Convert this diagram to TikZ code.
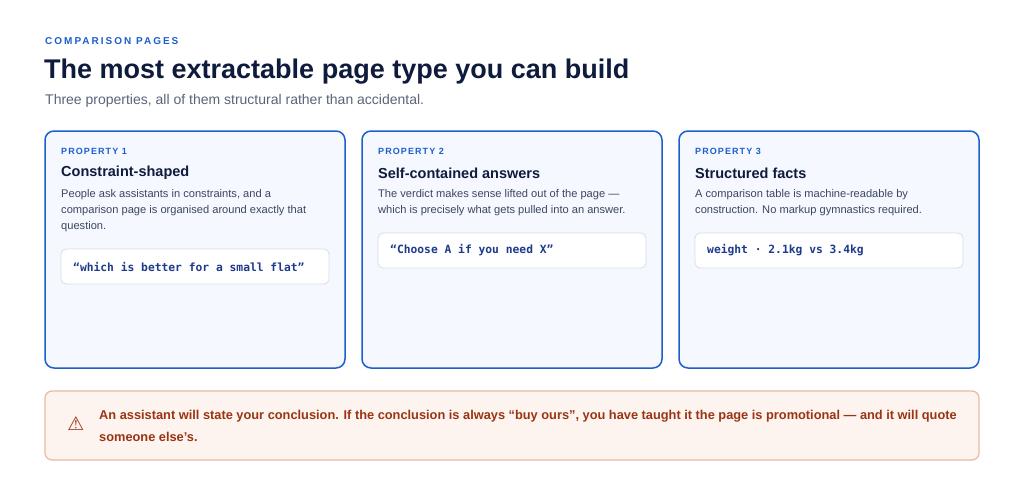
\documentclass[tikz,border=0pt]{standalone}
\usepackage{fontspec}
\setmainfont{Liberation Sans}
\newfontfamily\capsfont[LetterSpace=12]{Liberation Sans}
\newfontfamily\kickfont[LetterSpace=20]{Liberation Sans}
\newfontfamily\codefont{DejaVu Sans Mono}
\newfontfamily\symfont{DejaVu Sans}
\definecolor{blue1}{HTML}{1D5FCC}
\definecolor{cardbg}{HTML}{F5F8FE}
\definecolor{navy}{HTML}{0F1B3D}
\definecolor{grey1}{HTML}{5A6478}
\definecolor{body}{HTML}{3C4660}
\definecolor{codeb}{HTML}{D5DEEA}
\definecolor{codet}{HTML}{1E3A8A}
\definecolor{warnbg}{HTML}{FDF3EF}
\definecolor{warnbd}{HTML}{EDB79F}
\definecolor{warnt}{HTML}{9A3412}
\begin{document}
\begin{tikzpicture}[x=1pt,y=-1pt,
  card/.style={draw=blue1,line width=1.5pt,fill=cardbg,rounded corners=9pt},
  code/.style={draw=codeb,line width=0.8pt,fill=white,rounded corners=5pt},
  lab/.style={anchor=west,inner sep=0,text=blue1,font=\capsfont\bfseries\fontsize{9}{10}\selectfont},
  ttl/.style={anchor=west,inner sep=0,text=navy,font=\bfseries\fontsize{14.5}{16}\selectfont},
  txt/.style={anchor=north west,inner sep=0,text=body,align=left,font=\fontsize{11.1}{16}\selectfont},
  ct/.style={anchor=west,inner sep=0,text=codet,font=\codefont\bfseries\fontsize{11.3}{12}\selectfont}]
\useasboundingbox (0,0) rectangle (1024,495);
\fill[white] (0,0) rectangle (1024,495);
\node[anchor=west,inner sep=0,text=blue1,font=\kickfont\bfseries\fontsize{10}{11}\selectfont] (kick) at (45,41) {COMPARISON PAGES};
\node[anchor=west,inner sep=0,text=navy,font=\bfseries\fontsize{27}{30}\selectfont] (title) at (44,72) {The most extractable page type you can build};
\node[anchor=west,inner sep=0,text=grey1,font=\fontsize{14}{16}\selectfont] (sub) at (45,101) {Three properties, all of them structural rather than accidental.};
% cards
\draw[card] (45,131) rectangle (345,368);
\draw[card] (362,131) rectangle (662,368);
\draw[card] (679,131) rectangle (979,368);
\node[lab] (l1) at (61,151) {PROPERTY 1};
\node[lab] (l2) at (378,151) {PROPERTY 2};
\node[lab] (l3) at (695,151) {PROPERTY 3};
\node[ttl] (t1) at (61,173) {Constraint-shaped};
\node[ttl] (t2) at (378,173) {Self-contained answers};
\node[ttl] (t3) at (695,173) {Structured facts};
\node[txt] (b1) at (61,189) {People ask assistants in constraints, and a\\comparison page is organised around exactly that\\question.};
\node[txt] (b2) at (378,189) {The verdict makes sense lifted out of the page —\\which is precisely what gets pulled into an answer.};
\node[txt] (b3) at (695,189) {A comparison table is machine-readable by\\construction. No markup gymnastics required.};
\draw[code] (61,249) rectangle (329,284);
\draw[code] (378,233) rectangle (646,268);
\draw[code] (695,233) rectangle (963,268);
\node[ct] (c1) at (73,266.5) {“which is better for a small flat”};
\node[ct] (c2) at (390,250.5) {“Choose A if you need X”};
\node[ct] (c3) at (707,250.5) {weight · 2.1kg vs 3.4kg};
% warning
\draw[draw=warnbd,line width=1.2pt,fill=warnbg,rounded corners=7pt] (45,391) rectangle (979,460);
\node[text=warnt,inner sep=0,font=\symfont\bfseries\fontsize{19}{20}\selectfont] (icon) at (76,424) {⚠};
\node[anchor=west,inner sep=0,text=warnt,font=\bfseries\fontsize{12.8}{14}\selectfont] (w1) at (99,416) {An assistant will state your conclusion. If the conclusion is always “buy ours”, you have taught it the page is promotional — and it will quote};
\node[anchor=west,inner sep=0,text=warnt,font=\bfseries\fontsize{12.8}{14}\selectfont] (w2) at (99,437) {someone else’s.};
\end{tikzpicture}
\end{document}
